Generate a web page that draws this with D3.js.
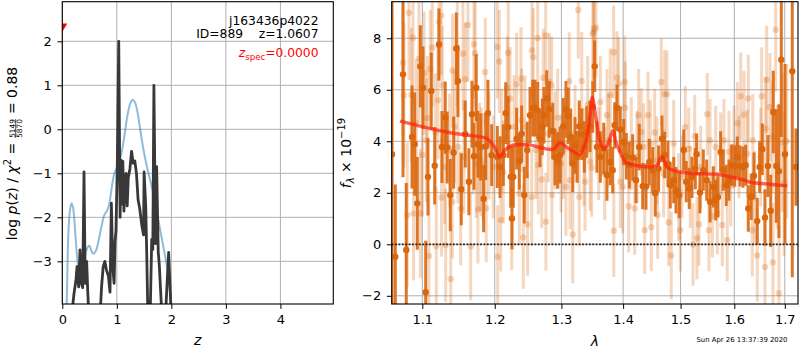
<!DOCTYPE html>
<html><head><meta charset="utf-8">
<script src="https://cdn.jsdelivr.net/npm/d3@7"></script>
<style>
html,body{margin:0;padding:0;background:#fff;}
svg{display:block;font-family:"DejaVu Sans",sans-serif;}
text{white-space:pre;}
</style></head><body>
<svg id="chart" width="800" height="350"></svg>
<script>
// ---------- redshift panel ----------
const zTicks = [0, 1, 2, 3, 4];
const logpTicks = [-3, -2, -1, 0, 1, 2];
// smooth curve
const smoothZ = [0.05,0.08,0.11,0.14,0.17,0.20,0.24,0.28,0.325,0.37,0.42,0.47,0.50,0.53,0.57,0.62,0.67,0.72,0.77,0.82,0.86,0.91,0.95,1.00,1.05,1.10,1.15,1.20,1.25,1.29,1.33,1.37,1.41,1.46,1.51,1.57,1.63,1.68,1.73,1.79,1.85,1.92,1.97,2.01];
const smoothLogP = [-5.0,-4.0,-2.4,-1.85,-1.68,-1.80,-2.4,-3.0,-3.38,-3.15,-2.85,-2.67,-2.65,-2.75,-2.83,-2.75,-2.5,-2.2,-1.95,-1.85,-1.7,-1.3,-1.02,-0.88,-0.72,-0.45,-0.05,0.35,0.60,0.67,0.62,0.45,0.15,-0.25,-0.60,-0.95,-1.25,-1.55,-1.85,-2.25,-2.65,-3.12,-3.6,-4.2];
// fit curve
const fitZ = [0.15,0.20,0.215,0.25,0.27,0.30,0.325,0.35,0.374,0.398,0.42,0.447,0.466,0.49,0.69,0.72,0.75,0.78,0.81,0.845,0.875,0.90,0.925,0.95,0.967,0.985,1.01,1.035,1.06,1.077,1.095,1.11,1.13,1.15,1.17,1.19,1.21,1.24,1.27,1.30,1.33,1.36,1.39,1.42,1.46,1.49,1.50,1.53,1.55,1.57,1.61,1.64,1.66,1.68,1.71,1.73,1.76,1.78,1.80,1.83,1.89,1.95,2.0];
const fitLogP = [-4.5,-3.9,-3.73,-3.43,-3.12,-3.58,-2.74,-3.5,-3.6,-0.97,-3.5,-3.0,-3.67,-4.3,-4.3,-3.58,-3.12,-3.0,-3.2,-3.33,-3.7,-1.68,-3.1,-3.5,-2.55,-2.3,-0.7,2.0,-2.0,-0.7,-1.7,-0.73,-1.86,-1.25,-1.0,-1.74,-1.1,-0.9,-0.5,-0.77,-0.72,-1.0,-1.6,-1.8,-2.2,-2.4,-0.97,-1.74,-2.92,-4.3,-4.3,-2.5,-2.73,1.0,-2.6,-0.85,-2.8,-3.1,-3.6,-4.3,-4.3,-2.8,-4.3];
const specZ = [0.0];
const specMarkerLogP = [2.31];

// ---------- spectrum panel ----------
const waveTicks = [1.1, 1.2, 1.3, 1.4, 1.5, 1.6, 1.7];
const fluxTicks = [-2, 0, 2, 4, 6, 8];

const darkWave = [1.0607,1.0649,1.0748,1.0790,1.0865,1.0900,1.0934,1.0974,1.1009,1.1045,1.1075,1.1119,1.1165,1.1222,1.1263,1.1307,1.1334,1.1376,1.1422,1.1458,1.1481,1.1527,1.1582,1.1633,1.1676,1.1704,1.1736,1.1760,1.1799,1.1841,1.1870,1.1902,1.1956,1.2037,1.2076,1.2124,1.2159,1.2196,1.2232,1.2251,1.2270,1.2320,1.2359,1.2394,1.2433,1.2477,1.2519,1.2560,1.2594,1.2635,1.2670,1.2705,1.2731,1.2772,1.2812,1.2865,1.2900,1.2942,1.2978,1.3029,1.3071,1.3107,1.3146,1.3178,1.3214,1.3250,1.3282,1.3321,1.3363,1.3401,1.3454,1.3498,1.3530,1.3567,1.3622,1.3677,1.3731,1.3786,1.3826,1.3859,1.3897,1.3953,1.4010,1.4054,1.4104,1.4162,1.4218,1.4274,1.4333,1.4390,1.4447,1.4506,1.4551,1.4610,1.4669,1.4717,1.4774,1.4816,1.4877,1.4918,1.4976,1.5057,1.5103,1.5157,1.5207,1.5268,1.5293,1.5354,1.5415,1.5478,1.5540,1.5602,1.5646,1.5689,1.5740,1.5789,1.5846,1.5897,1.5950,1.6008,1.6058,1.6110,1.6168,1.6220,1.6271,1.6329,1.6382,1.6447,1.6494,1.6547,1.6600,1.6659,1.6715,1.6767,1.6827,1.6881,1.6929,1.7004,1.7154,1.7230];
const darkFlux = [3.5,-0.48,6.60,-0.22,4.17,3.89,1.59,6.91,6.08,-1.86,2.62,5.95,3.05,7.76,3.78,4.92,3.76,1.91,3.56,7.60,6.34,2.14,4.28,2.43,5.05,3.42,6.08,3.88,3.78,1.77,3.80,5.09,3.46,3.39,3.00,3.46,5.09,4.55,2.62,1.00,2.62,4.10,3.22,4.29,1.91,3.66,5.01,5.29,5.29,5.20,4.10,4.56,5.01,5.66,5.24,4.40,3.39,3.26,3.46,4.58,5.24,4.99,4.17,3.13,3.84,3.39,4.58,4.27,3.78,4.36,4.58,5.33,6.91,3.78,3.39,3.72,2.69,3.20,2.88,4.62,5.30,4.46,3.97,3.42,3.07,3.37,2.49,3.78,2.26,2.24,3.20,2.88,1.98,2.94,4.10,3.46,3.13,2.29,2.49,2.10,1.91,3.66,2.43,2.17,2.60,2.94,3.50,2.01,2.88,2.49,1.65,2.23,1.72,1.84,3.59,2.88,2.29,2.49,3.07,3.04,3.39,3.04,3.00,3.07,1.39,1.84,2.66,0.90,3.00,3.69,1.04,3.04,1.30,5.14,3.04,2.84,7.17,3.5,6.72,3.0];
const darkErr = [8.0,2.8,4.0,2.6,2.0,2.0,1.8,1.6,1.6,2.0,1.5,1.5,1.5,1.4,1.4,1.4,1.4,1.4,1.4,1.4,1.4,1.4,1.3,1.3,1.3,1.3,1.3,1.3,1.3,1.3,1.3,1.3,1.2,1.2,1.2,1.2,1.2,1.2,1.2,1.2,1.2,1.2,1.1,1.1,1.1,1.1,1.1,1.1,1.1,1.1,1.1,1.1,1.1,1.1,1.1,1.1,1.1,1.1,1.1,1.1,1.1,1.1,1.1,1.1,1.1,1.0,1.0,1.0,1.0,1.0,1.0,1.0,1.0,1.0,1.0,1.0,1.0,0.9,0.9,0.9,0.9,0.9,0.9,0.9,0.9,0.9,0.9,0.9,0.9,0.9,0.9,0.9,0.9,0.9,0.9,0.9,0.9,0.9,0.9,0.9,0.9,0.8,0.8,0.8,0.8,0.8,0.8,0.8,0.8,0.8,0.8,0.8,0.8,0.8,0.8,0.8,0.8,0.8,0.8,0.8,0.8,0.8,0.8,0.8,0.9,0.9,0.9,0.9,1.0,1.0,1.1,1.2,1.4,1.6,2.2,2.6,3.0,3.5,8.0,1.5,8.0];

const lightWave = [1.0748,1.0760,1.0803,1.0825,1.0856,1.0878,1.0885,1.0921,1.0956,1.0974,1.1000,1.1023,1.1053,1.1066,1.1088,1.1106,1.1133,1.1173,1.1186,1.1209,1.1222,1.1254,1.1257,1.1267,1.1299,1.1313,1.1367,1.1382,1.1403,1.1406,1.1436,1.1472,1.1481,1.1519,1.1550,1.1564,1.1582,1.1619,1.1658,1.1690,1.1704,1.1722,1.1736,1.1760,1.1784,1.1807,1.1831,1.1864,1.1878,1.1916,1.1979,1.2037,1.2042,1.2065,1.2086,1.2101,1.2124,1.2182,1.2196,1.2222,1.2247,1.2281,1.2320,1.2359,1.2384,1.2394,1.2418,1.2443,1.2483,1.2545,1.2548,1.2569,1.2609,1.2635,1.2644,1.2696,1.2720,1.2757,1.2760,1.2797,1.2812,1.2849,1.2853,1.2900,1.2942,1.2994,1.3029,1.3071,1.3123,1.3135,1.3178,1.3214,1.3266,1.3282,1.3321,1.3358,1.3374,1.3417,1.3454,1.3481,1.3498,1.3514,1.3519,1.3551,1.3595,1.3622,1.3694,1.3731,1.3759,1.3786,1.3842,1.3845,1.3897,1.3925,1.3953,1.3993,1.4027,1.4037,1.4094,1.4138,1.4196,1.4235,1.4264,1.4309,1.4350,1.4368,1.4424,1.4464,1.4482,1.4541,1.4580,1.4593,1.4657,1.4699,1.4717,1.4757,1.4787,1.4834,1.4877,1.4966,1.4995,1.5026,1.5085,1.5147,1.5176,1.5226,1.5257,1.5298,1.5335,1.5367,1.5489,1.5520,1.5540,1.5583,1.5646,1.5676,1.5740,1.5770,1.5802,1.5865,1.5897,1.5931,1.5994,1.6058,1.6090,1.6124,1.6187,1.6251,1.6271,1.6349,1.6359,1.6396,1.6447,1.6515,1.6535,1.6600,1.6614,1.6634,1.6701,1.6747,1.6761,1.6815,1.6847,1.6881,1.6950,1.6984,1.7039];
const lightFlux = [7.05,5.79,1.14,8.99,5.80,8.02,1.20,4.69,7.21,1.20,3.47,6.64,4.04,4.90,-0.45,6.80,7.64,4.34,-0.08,5.59,8.63,8.88,1.82,6.18,3.00,-0.04,3.66,-1.35,1.65,6.75,4.56,7.57,3.78,1.39,7.40,3.39,6.41,8.52,-0.08,4.04,7.77,7.41,3.13,1.35,3.39,3.20,3.00,6.69,1.39,3.84,3.00,7.66,-0.48,7.10,0.94,4.04,2.81,6.08,7.44,5.66,1.00,4.56,6.21,1.97,6.43,4.82,0.27,4.56,0.78,1.84,7.53,7.27,3.66,8.01,3.07,2.52,6.47,8.11,0.88,4.30,6.30,6.17,1.91,4.04,4.92,3.13,3.66,2.23,6.33,2.49,0.38,4.30,9.10,1.84,6.34,3.39,2.43,5.42,3.20,2.97,8.17,8.24,8.37,8.41,3.52,5.52,2.75,5.01,4.04,5.80,7.46,0.53,6.47,6.24,2.43,2.23,6.30,5.30,1.48,3.91,1.39,3.39,5.01,4.36,3.78,0.55,5.01,3.91,0.66,4.34,3.26,1.14,6.30,2.75,5.83,5.83,0.85,-0.43,3.91,1.84,0.55,2.62,4.55,3.71,2.23,-0.01,4.20,0.24,0.78,3.00,5.05,0.55,4.04,1.09,3.78,1.20,3.52,0.75,4.04,0.17,3.59,2.29,3.78,4.70,3.39,5.75,5.04,3.52,5.66,0.55,4.04,1.82,-0.43,3.39,5.75,-0.88,4.49,6.39,5.33,4.17,-0.70,8.33,3.00,-1.90,3.95,2.36,4.00];
const lightErr = [2.8,2.8,2.8,2.6,2.6,2.6,2.6,2.5,2.5,2.5,2.4,2.4,2.4,2.4,2.4,2.3,2.3,2.3,2.3,2.3,2.3,2.3,2.3,2.3,2.2,2.2,2.2,2.2,2.2,2.2,2.2,2.2,2.2,2.2,2.2,2.2,2.2,2.2,2.1,2.1,2.1,2.1,2.1,2.1,2.1,2.1,2.1,2.1,2.1,2.1,2.0,2.0,2.0,2.0,2.0,2.0,2.0,2.0,2.0,2.0,2.0,2.0,2.0,2.0,2.0,2.0,2.0,2.0,2.0,1.9,1.9,1.9,1.9,1.9,1.9,1.9,1.9,1.9,1.9,1.9,1.9,1.9,1.9,1.9,1.9,1.9,1.9,1.9,1.9,1.9,1.9,1.9,1.9,1.9,1.9,1.9,1.9,1.9,1.9,1.9,1.9,1.9,1.9,1.9,1.8,1.8,1.8,1.8,1.8,1.8,1.8,1.8,1.8,1.8,1.8,1.8,1.8,1.8,1.8,1.8,1.8,1.8,1.8,1.7,1.7,1.7,1.7,1.7,1.7,1.7,1.7,1.7,1.7,1.7,1.7,1.7,1.7,1.7,1.7,1.7,1.6,1.6,1.6,1.6,1.6,1.6,1.6,1.6,1.6,1.6,1.6,1.6,1.6,1.6,1.6,1.6,1.6,1.6,1.6,1.6,1.6,1.6,1.6,1.6,1.6,1.7,1.7,1.7,1.7,1.8,1.8,1.8,1.8,1.9,1.9,2.0,2.0,2.1,2.1,2.2,2.3,2.4,2.4,2.6,2.7,2.8,3.0,3.2,3.4];

const modelWave = [1.0709,1.1014,1.1326,1.1602,1.1884,1.1979,1.2076,1.2148,1.2270,1.2519,1.2720,1.2874,1.2978,1.3082,1.3241,1.3294,1.3390,1.3454,1.3491,1.3551,1.3617,1.3682,1.3748,1.3831,1.3880,1.3956,1.4037,1.4201,1.4494,1.4580,1.4669,1.4757,1.4905,1.5207,1.5665,1.5865,1.6187,1.6318,1.6701,1.7051];
const modelFlux = [4.78,4.56,4.36,4.24,4.11,3.85,3.40,3.66,3.85,3.85,3.73,3.69,3.95,3.77,3.53,3.50,4.00,5.00,5.70,4.90,4.00,3.70,3.90,4.42,3.95,3.55,3.20,3.07,3.01,3.07,3.40,3.00,2.85,2.75,2.72,2.65,2.49,2.41,2.33,2.27];

const objName = "j163436p4022";
const objInfo = "ID=889    z=1.0607";
const zSpecValue = "=0.0000";
const chiNum = "5149", chiDen = "5870", chiVal = "0.88";
const stamp = "Sun Apr 26 13:37:39 2020";

// ---------- layout ----------
const svg = d3.select("#chart");
const L = {x0: 62.3, x1: 333.3, y0: 1.7, y1: 304};
const R = {x0: 391.7, x1: 798, y0: 1.7, y1: 304};
const gridColor = "#b0b0b0";
const orange = "#da670e";

const xZ = d3.scaleLinear().domain([0, 4.97]).range([L.x0, L.x1]);
const yP = d3.scaleLinear().domain([-3.97, 2.9]).range([L.y1, L.y0]);
const xW = d3.scaleLog().domain([1.0603, 1.7272]).range([R.x0, R.x1]);
const yF = d3.scaleLinear().domain([-2.318, 9.42]).range([R.y1, R.y0]);

const defs = svg.append("defs");
[["clipL", L], ["clipR", R]].forEach(([id, b]) => {
  defs.append("clipPath").attr("id", id).append("rect")
    .attr("x", b.x0).attr("y", b.y0).attr("width", b.x1 - b.x0).attr("height", b.y1 - b.y0);
});

function grid(b, xs, xv, ys, yv) {
  const g = svg.append("g").attr("stroke", gridColor).attr("stroke-width", 1);
  xv.forEach(v => g.append("line").attr("x1", xs(v)).attr("x2", xs(v)).attr("y1", b.y0).attr("y2", b.y1));
  yv.forEach(v => g.append("line").attr("y1", ys(v)).attr("y2", ys(v)).attr("x1", b.x0).attr("x2", b.x1));
}
grid(L, xZ, zTicks, yP, logpTicks);
grid(R, xW, waveTicks, yF, fluxTicks);

// ---------- p(z) curves ----------
const pl = svg.append("g").attr("clip-path", "url(#clipL)");
pl.append("path")
  .datum(smoothZ.map((z, i) => [z, smoothLogP[i]]))
  .attr("fill", "none").attr("stroke", "#1f77b4").attr("stroke-opacity", 0.5).attr("stroke-width", 2)
  .attr("d", d3.line().x(d => xZ(d[0])).y(d => yP(d[1])).curve(d3.curveCatmullRom.alpha(0.5)));
pl.append("path")
  .datum(fitZ.map((z, i) => [z, fitLogP[i]]))
  .attr("fill", "none").attr("stroke", "#383838").attr("stroke-width", 2.8).attr("stroke-linejoin", "round")
  .attr("d", d3.line().x(d => xZ(d[0])).y(d => yP(d[1])));
specZ.forEach((z, i) => {
  const cx = xZ(z), cy = yP(specMarkerLogP[i]);
  pl.append("path").attr("fill", "#ff0000")
    .attr("d", `M${cx - 5},${cy - 4.2}L${cx + 5},${cy - 4.2}L${cx},${cy + 4.2}Z`);
});

// ---------- spectrum ----------
const sp = svg.append("g").attr("clip-path", "url(#clipR)");
function errSeries(wave, flux, err, opacity, dotOpacity) {
  const g = sp.append("g");
  wave.forEach((w, i) => {
    g.append("line").attr("x1", xW(w)).attr("x2", xW(w))
      .attr("y1", yF(flux[i] - err[i])).attr("y2", yF(flux[i] + err[i]))
      .attr("stroke", orange).attr("stroke-opacity", opacity).attr("stroke-width", 3);
  });
  wave.forEach((w, i) => {
    g.append("circle").attr("cx", xW(w)).attr("cy", yF(flux[i])).attr("r", 3.2)
      .attr("fill", orange).attr("fill-opacity", dotOpacity);
  });
}
errSeries(lightWave, lightFlux, lightErr, 0.27, 0.27);
errSeries(darkWave, darkFlux, darkErr, 0.9, 1.0);

sp.append("path")
  .datum(modelWave.map((w, i) => [w, modelFlux[i]]))
  .attr("fill", "none").attr("stroke", "#ff2010").attr("stroke-opacity", 0.7).attr("stroke-width", 3.4)
  .attr("stroke-linejoin", "round")
  .attr("d", d3.line().x(d => xW(d[0])).y(d => yF(d[1])).curve(d3.curveCatmullRom.alpha(0.5)));

sp.append("line").attr("x1", R.x0).attr("x2", R.x1).attr("y1", yF(0)).attr("y2", yF(0))
  .attr("stroke", "#222").attr("stroke-width", 1.8).attr("stroke-dasharray", "1.8,1.6");

// ---------- frames and axes ----------
const fmt = d => (d < 0 ? "\u2212" + Math.abs(d) : String(d));
function axes(b, xs, xv, ys, yv) {
  const gx = svg.append("g").attr("transform", `translate(0,${b.y1})`)
    .call(d3.axisBottom(xs).tickValues(xv).tickFormat(fmt).tickSize(4.9).tickPadding(6.3));
  const gy = svg.append("g").attr("transform", `translate(${b.x0},0)`)
    .call(d3.axisLeft(ys).tickValues(yv).tickFormat(fmt).tickSize(4.9).tickPadding(5.6));
  [gx, gy].forEach(g => {
    g.select(".domain").remove();
    g.selectAll("line").attr("stroke", "#000").attr("stroke-width", 1);
    g.selectAll("text").attr("font-size", 13).attr("fill", "#000").attr("font-family", "DejaVu Sans");
  });
  svg.append("rect").attr("x", b.x0).attr("y", b.y0).attr("width", b.x1 - b.x0).attr("height", b.y1 - b.y0)
    .attr("fill", "none").attr("stroke", "#000").attr("stroke-width", 1.1);
}
axes(L, xZ, zTicks, yP, logpTicks);
axes(R, xW, waveTicks, yF, fluxTicks);

// x labels
svg.append("text").attr("x", (L.x0 + L.x1) / 2).attr("y", 345).attr("text-anchor", "middle")
  .attr("font-size", 14).attr("font-style", "italic").text("z");
svg.append("text").attr("x", (R.x0 + R.x1) / 2).attr("y", 345.5).attr("text-anchor", "middle")
  .attr("font-size", 14).attr("font-style", "italic").text("λ");

// left y label with fraction
{
  const outer = svg.append("g").attr("transform", "translate(16.7,153.5) rotate(-90)");
  const g = outer.append("g");
  const t1 = g.append("text").attr("font-size", 14).attr("x", 0).attr("y", 0);
  t1.append("tspan").text("log ");
  t1.append("tspan").attr("font-style", "italic").text("p");
  t1.append("tspan").text("(");
  t1.append("tspan").attr("font-style", "italic").text("z");
  t1.append("tspan").text(") / ");
  t1.append("tspan").attr("font-style", "italic").text("χ");
  t1.append("tspan").attr("font-size", 10).attr("dy", -5.5).text("2");
  t1.append("tspan").attr("dy", 5.5).text(" = ");
  const w1 = t1.node().getComputedTextLength();
  const num = g.append("text").attr("font-size", 7.4).attr("y", -2.2).text(chiNum);
  const den = g.append("text").attr("font-size", 7.4).attr("y", 5.0).text(chiDen);
  const fw = Math.max(num.node().getComputedTextLength(), den.node().getComputedTextLength());
  const fx = w1 + 0.5;
  num.attr("x", fx + fw / 2).attr("text-anchor", "middle");
  den.attr("x", fx + fw / 2).attr("text-anchor", "middle");
  g.append("line").attr("x1", fx).attr("x2", fx + fw).attr("y1", -1.0).attr("y2", -1.0)
    .attr("stroke", "#000").attr("stroke-width", 0.7);
  const t3 = g.append("text").attr("font-size", 14).attr("x", fx + fw + 0.5).attr("y", 0).text(" = " + chiVal);
  const total = fx + fw + 0.5 + t3.node().getComputedTextLength();
  g.attr("transform", `translate(${-total / 2},0)`);
}

// right y label
{
  const t = svg.append("text").attr("transform", "translate(350.5,153) rotate(-90)")
    .attr("text-anchor", "middle").attr("font-size", 14);
  t.append("tspan").attr("font-style", "italic").text("f");
  t.append("tspan").attr("font-style", "italic").attr("font-size", 10).attr("dy", 3).text("λ");
  t.append("tspan").attr("dy", -3).text(" × 10");
  t.append("tspan").attr("font-size", 10).attr("dy", -6).text("\u221219");
}

// annotations
svg.append("text").attr("x", 318.5).attr("y", 24.5).attr("text-anchor", "end").attr("font-size", 12.3).text(objName);
svg.append("text").attr("x", 318.5).attr("y", 38.3).attr("text-anchor", "end").attr("font-size", 12.3).text(objInfo);
{
  const t = svg.append("text").attr("x", 318.5).attr("y", 57.3).attr("text-anchor", "end")
    .attr("font-size", 12.3).attr("fill", "#ff0000");
  t.append("tspan").attr("font-style", "italic").text("z");
  t.append("tspan").attr("font-size", 8.6).attr("dy", 2.5).text("spec");
  t.append("tspan").attr("dy", -2.5).text(zSpecValue);
}
svg.append("text").attr("x", 787.5).attr("y", 341.5).attr("text-anchor", "end").attr("font-size", 6.9).text(stamp);
</script>
</body></html>
